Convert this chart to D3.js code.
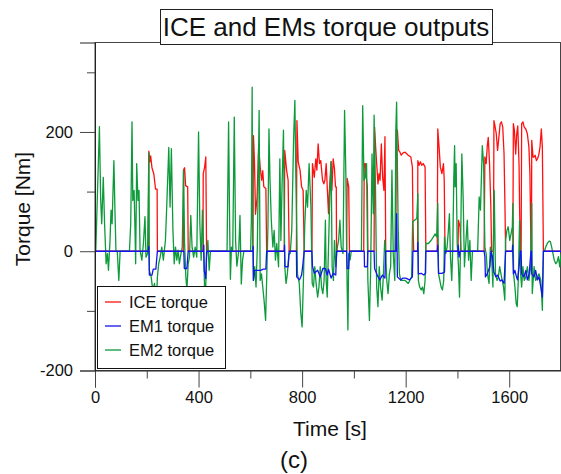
<!DOCTYPE html>
<html>
<head>
<meta charset="utf-8">
<script src="https://cdn.jsdelivr.net/npm/d3@7/dist/d3.min.js"></script>
<style>
  html, body { margin: 0; padding: 0; background: #fff; }
  svg { display: block; }
  text { font-family: "Liberation Sans", Arial, sans-serif; fill: #111; }
</style>
</head>
<body>
<svg id="chart" width="561" height="474"></svg>
<script>
// ---------- data (time [s], torque [Nm]) ----------
const title = "ICE and EMs torque outputs";
const xLabel = "Time [s]";
const yLabel = "Torque [Nm]";
const caption = "(c)";
const seriesNames = ["ICE torque", "EM1 torque", "EM2 torque"];
const seriesColors = ["#ff1010", "#1414f0", "#0c9a3a"];
const xTicks = [0, 400, 800, 1200, 1600];
const xMinorTicks = [200, 600, 1000, 1400, 1800];
const yTicks = [-200, 0, 200];
const yMinorTicks = [-100, 100, 300];

const iceTorque = [
[0,0],[206,0],[208,168],[212,150],[215,160],[220,140],[227,130],[234,104],[240,104],[241,0],
[341,0],[342,136],[346,140],[350,110],[358,108],[360,0],
[417,0],[418,130],[423,140],[428,158],[431,0],
[610,0],[612,194],[616,150],[620,62],[626,90],[632,175],[638,141],[644,119],[648,135],[652,108],[660,105],[663,0],
[731,0],[733,169],[740,136],[746,119],[750,0],
[778,0],[780,219],[785,150],[792,136],[798,108],[804,102],[808,0],
[838,0],[840,147],[847,124],[853,155],[857,136],[862,180],[867,147],[872,152],[879,119],[884,113],[888,119],[893,147],[897,108],[902,63],[905,100],[912,150],[915,102],[920,155],[925,138],[929,108],[932,108],[933,0],
[972,0],[974,122],[980,108],[983,0],
[1038,0],[1040,147],[1044,147],[1049,119],[1052,108],[1054,0],
[1078,0],[1080,208],[1084,175],[1088,147],[1093,113],[1097,130],[1101,119],[1106,180],[1111,124],[1116,102],[1120,192],[1123,0],
[1162,0],[1164,203],[1168,203],[1173,169],[1178,166],[1183,161],[1190,165],[1198,166],[1210,161],[1220,158],[1226,141],[1228,52],[1231,0],
[1246,0],[1247,152],[1252,144],[1257,150],[1262,144],[1268,147],[1275,141],[1278,0],
[1322,0],[1324,205],[1329,175],[1334,141],[1340,130],[1346,147],[1349,119],[1352,0],
[1402,0],[1404,52],[1410,41],[1414,0],
[1503,0],[1506,158],[1511,147],[1515,175],[1519,191],[1524,147],[1529,74],[1532,0],
[1539,0],[1541,219],[1545,210],[1550,197],[1555,169],[1560,191],[1565,214],[1570,217],[1575,208],[1580,163],[1584,63],[1586,0],
[1614,0],[1616,214],[1620,203],[1625,163],[1629,197],[1633,210],[1638,144],[1640,74],[1643,0],
[1646,0],[1648,214],[1653,217],[1658,208],[1664,205],[1670,197],[1676,175],[1680,130],[1684,0],
[1686,0],[1687,186],[1692,158],[1696,158],[1700,161],[1705,152],[1709,155],[1714,161],[1719,175],[1724,205],[1728,175],[1732,0],
[1800,0]
];

const em1Torque = [
[0,0],[206,0],[208,8],[210,-40],[220,-40],[225,-30],[235,-30],[241,0],
[343,0],[345,-29],[355,-29],[360,0],
[418,0],[420,10],[422,-32],[428,-46],[431,0],
[610,0],[611,8],[612,-49],[616,-32],[640,-32],[650,-30],[660,-30],[663,0],
[731,0],[732,10],[734,-26],[746,-26],[750,0],
[778,0],[779,-43],[790,-48],[798,-40],[802,-26],[808,0],
[838,0],[840,-25],[847,-37],[860,-32],[870,-43],[880,-29],[890,-29],[897,-40],[902,-30],[912,-45],[920,-37],[930,-40],[933,0],
[972,0],[974,-29],[980,-29],[983,0],
[1040,0],[1041,-26],[1052,-26],[1054,0],
[1078,0],[1080,-29],[1090,-40],[1100,-48],[1110,-40],[1120,-45],[1123,0],
[1162,0],[1165,63],[1167,0],[1168,-43],[1180,-48],[1190,-45],[1200,-45],[1215,-48],[1226,-43],[1228,0],
[1246,0],[1247,15],[1249,-38],[1260,-37],[1270,-40],[1277,-37],[1278,0],
[1322,0],[1324,10],[1327,-37],[1340,-37],[1350,-35],[1352,0],
[1402,0],[1403,10],[1406,-10],[1410,0],
[1503,0],[1506,-9],[1508,-43],[1515,-38],[1525,-26],[1530,0],[1535,-9],[1541,-35],[1548,-43],[1555,-40],[1565,-50],[1572,-48],[1580,-54],[1586,0],
[1612,0],[1613,10],[1616,-38],[1622,-32],[1628,-43],[1632,-48],[1638,-26],[1643,0],
[1646,0],[1648,-38],[1657,-43],[1664,-32],[1670,-48],[1677,-38],[1684,0],
[1686,0],[1687,-38],[1696,-43],[1702,-32],[1709,-48],[1715,-43],[1722,-60],[1728,-77],[1732,0],
[1800,0]
];

const em2Torque = [
[0,0],[3,0],[17,209],[22,85],[26,46],[32,124],[37,46],[43,-21],[48,-4],[52,-32],[58,18],[62,69],[66,46],[73,152],[77,69],[81,0],[86,0],[92,-49],[97,0],
[133,0],[138,46],[143,217],[146,85],[151,102],[154,46],[157,-21],[161,147],[166,85],[170,102],[174,2],[181,-15],[187,13],[193,58],[197,-10],[203,-4],[208,165],[210,-32],[217,-43],[223,-65],[230,-54],[236,-99],[241,-43],[246,-21],[252,-9],[258,7],[264,-15],[272,18],[277,74],[285,174],[290,74],[295,172],[301,35],[306,-21],[311,7],[316,-15],[321,2],[326,-21],[332,-4],[337,7],[342,136],[346,13],[351,-43],[355,-65],[360,-21],[365,-10],[370,60],[375,7],[381,-10],[387,7],[393,-10],[400,200],[405,46],[410,-15],[415,69],[421,-21],[424,-76],[428,-56],[431,-10],[436,18],[441,-32],[446,0],
[510,0],[516,217],[520,46],[523,-47],[527,7],[532,0],[538,225],[543,18],[548,-25],[555,0],[560,60],[565,-55],[570,-15],[575,0],
[601,0],[604,52],[607,275],[609,24],[612,-49],[617,-26],[622,-60],[627,7],[634,236],[638,-49],[643,-38],[648,-60],[653,-82],[659,-116],[663,-49],[668,41],[672,205],[676,119],[681,52],[687,7],[692,35],[697,-15],[702,13],[709,-26],[714,155],[718,18],[723,119],[728,203],[733,-26],[738,-54],[743,-38],[749,-4],[754,-4],[760,35],[767,186],[772,253],[776,119],[782,-38],[789,-54],[795,-104],[800,-127],[805,-49],[810,41],[816,102],[821,74],[827,147],[834,74],[839,-54],[844,-60],[849,-26],[854,-54],[860,-77],[865,-60],[870,-26],[875,-60],[880,-71],[885,-49],[890,52],[893,-49],[897,-77],[902,7],[907,91],[912,150],[916,-26],[921,-49],[925,18],[930,-26],[936,7],[941,18],[946,52],[951,7],[958,-4],[964,236],[969,130],[972,2],[974,-60],[977,-132],[980,-4],[985,-15],[990,0],
[1029,0],[1034,244],[1039,119],[1044,124],[1049,147],[1054,-49],[1060,-116],[1065,-26],[1070,163],[1075,63],[1078,228],[1083,119],[1088,-60],[1093,-93],[1098,-26],[1103,-60],[1109,-82],[1114,-38],[1119,18],[1123,-4],[1127,-49],[1132,-71],[1137,-38],[1142,-26],[1147,136],[1152,-4],[1158,-49],[1162,203],[1165,250],[1171,41],[1176,-38],[1181,-49],[1191,-49],[1198,-49],[1210,-54],[1223,-43],[1227,49],[1234,52],[1243,55],[1247,97],[1249,-49],[1254,-60],[1260,-65],[1265,-60],[1270,-71],[1275,-49],[1278,13],[1288,13],[1298,18],[1307,24],[1314,29],[1320,24],[1324,80],[1327,-38],[1332,-49],[1337,-60],[1342,-65],[1347,-49],[1350,24],[1355,-4],[1360,7],[1365,35],[1369,63],[1373,-9],[1378,-49],[1382,7],[1386,124],[1389,177],[1391,108],[1395,147],[1399,13],[1404,-26],[1408,-77],[1412,7],[1417,163],[1422,91],[1427,-26],[1433,18],[1438,52],[1443,-15],[1448,18],[1453,-49],[1458,0],[1478,0],[1484,91],[1489,69],[1496,177],[1501,147],[1506,7],[1511,-4],[1516,-38],[1522,-54],[1527,7],[1532,-9],[1537,-60],[1542,102],[1547,-38],[1553,-49],[1558,-43],[1563,-26],[1568,-38],[1573,-49],[1578,-60],[1583,-82],[1586,18],[1591,35],[1596,41],[1602,18],[1607,29],[1612,41],[1614,80],[1617,-38],[1622,-60],[1627,-88],[1631,-93],[1635,-49],[1640,52],[1644,-38],[1648,-60],[1653,-26],[1658,-49],[1664,-43],[1670,-26],[1676,-49],[1683,-26],[1687,80],[1689,-71],[1696,-26],[1702,-49],[1709,-43],[1715,-38],[1722,-49],[1725,-71],[1728,-99],[1732,0],[1736,0],[1741,7],[1747,13],[1754,17],[1759,16],[1764,7],[1769,-4],[1774,-15],[1780,-21],[1785,-18],[1790,-9],[1795,-26],[1800,-4]
];

// ---------- layout ----------
const svg = d3.select("#chart");
const plot = { left: 95, right: 561, top: 42.5, bottom: 370.5 };
const x = d3.scaleLinear().domain([0, 1800]).range([plot.left, plot.right]);
const y = d3.scaleLinear().domain([-200, 350]).range([plot.bottom, plot.top]);
const fmt = d => String(d); // plain hyphen minus, as in the original

svg.append("defs").append("clipPath").attr("id", "clip")
  .append("rect").attr("x", plot.left).attr("y", plot.top)
  .attr("width", plot.right - plot.left).attr("height", plot.bottom - plot.top);

// frame
svg.append("rect")
  .attr("x", plot.left).attr("y", plot.top)
  .attr("width", plot.right - plot.left - 0.5).attr("height", plot.bottom - plot.top)
  .attr("fill", "none").attr("stroke", "#444").attr("stroke-width", 1);

// lines
const line = d3.line().x(d => x(d[0])).y(d => y(d[1]));
const g = svg.append("g").attr("clip-path", "url(#clip)");
const drawOrder = [[iceTorque, 0], [em2Torque, 2], [em1Torque, 1]];
drawOrder.forEach(([data, i]) => {
  g.append("path").datum(data)
    .attr("fill", "none")
    .attr("stroke", seriesColors[i])
    .attr("stroke-width", 1.3)
    .attr("stroke-linejoin", "round")
    .attr("d", line);
});

// x axis
const xAxis = d3.axisBottom(x).tickValues(xTicks).tickSize(17).tickPadding(4).tickFormat(fmt);
const gx = svg.append("g").attr("transform", `translate(0,${plot.bottom})`).call(xAxis);
gx.select(".domain").attr("stroke", "#222");
gx.selectAll(".tick line").attr("stroke", "#444");
gx.selectAll(".tick text").attr("font-size", "16.5px").attr("font-family", "Liberation Sans, Arial, sans-serif").attr("fill", "#111");
const gxm = svg.append("g").attr("transform", `translate(0,${plot.bottom})`)
  .call(d3.axisBottom(x).tickValues(xMinorTicks).tickSize(8).tickFormat(""));
gxm.select(".domain").remove();
gxm.selectAll(".tick line").attr("stroke", "#444");

// y axis
const yAxis = d3.axisLeft(y).tickValues(yTicks).tickSize(15).tickPadding(7).tickFormat(fmt);
const gy = svg.append("g").attr("transform", `translate(${plot.left},0)`).call(yAxis);
gy.select(".domain").attr("stroke", "#222");
gy.selectAll(".tick line").attr("stroke", "#444");
gy.selectAll(".tick text").attr("font-size", "16.5px").attr("font-family", "Liberation Sans, Arial, sans-serif").attr("fill", "#111");
const gym = svg.append("g").attr("transform", `translate(${plot.left},0)`)
  .call(d3.axisLeft(y).tickValues(yMinorTicks).tickSize(8).tickFormat(""));
gym.select(".domain").remove();
gym.selectAll(".tick line").attr("stroke", "#444");

// title box
const tb = svg.append("g");
tb.append("rect").attr("x", 160.5).attr("y", 9.5).attr("width", 332).attr("height", 35)
  .attr("fill", "#fff").attr("stroke", "#222").attr("stroke-width", 1);
tb.append("text").attr("x", 326).attr("y", 36).attr("text-anchor", "middle")
  .attr("font-size", "26px").text(title);

// axis labels
svg.append("text").attr("x", 330).attr("y", 436).attr("text-anchor", "middle")
  .attr("font-size", "21px").text(xLabel);
svg.append("text").attr("transform", "translate(30,209) rotate(-90)").attr("text-anchor", "middle")
  .attr("font-size", "21px").text(yLabel);
svg.append("text").attr("x", 294).attr("y", 468).attr("text-anchor", "middle")
  .attr("font-size", "24px").attr("font-family", "Open Sans, sans-serif").text(caption);

// legend
const lg = svg.append("g");
lg.append("rect").attr("x", 97.5).attr("y", 286.5).attr("width", 128).attr("height", 82)
  .attr("fill", "#fff").attr("stroke", "#111").attr("stroke-width", 1);
seriesNames.forEach((name, i) => {
  const yy = 302 + i * 24;
  lg.append("line").attr("x1", 105).attr("x2", 121).attr("y1", yy).attr("y2", yy)
    .attr("stroke", seriesColors[i]).attr("stroke-width", 1.3);
  lg.append("text").attr("x", 129).attr("y", yy + 6).attr("font-size", "16.5px").text(name);
});
</script>
</body>
</html>
